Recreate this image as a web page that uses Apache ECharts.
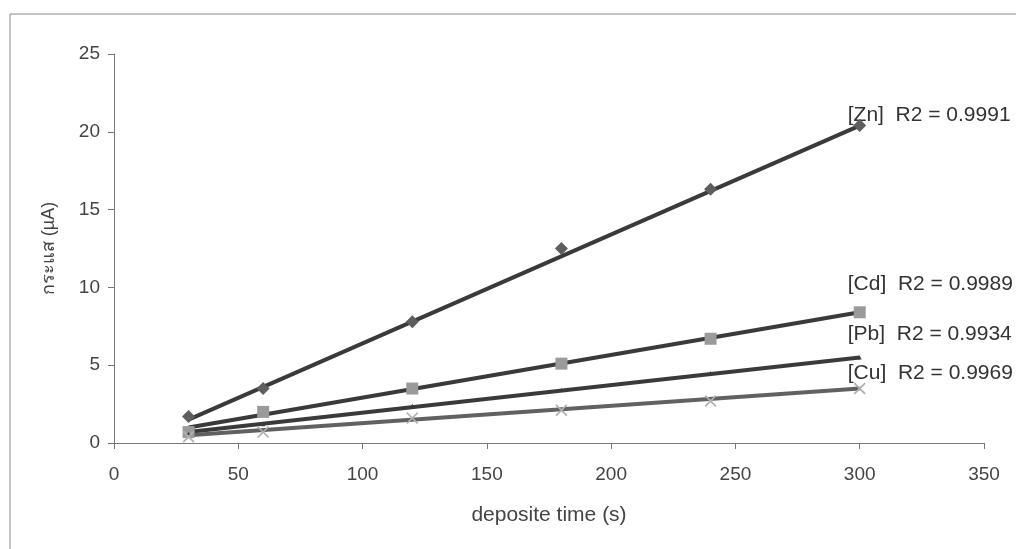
<!DOCTYPE html>
<html>
<head>
<meta charset="utf-8">
<script src="https://cdn.jsdelivr.net/npm/echarts@6/dist/echarts.min.js"></script>
<style>
  html, body { margin: 0; padding: 0; background: #fff; }
  #chart { width: 1016px; height: 549px; }
</style>
</head>
<body>
<div id="chart"></div>
<script>
// deposit time (s)
var times = [30, 60, 120, 180, 240, 300];
// measured current (µA)
var znData = [1.7, 3.5, 7.8, 12.5, 16.3, 20.4];
var cdData = [0.7, 2.0, 3.5, 5.1, 6.7, 8.4];
var pbData = [0.6, 1.2, 2.4, 3.4, 4.5, 5.5];
var cuData = [0.4, 0.7, 1.6, 2.1, 2.7, 3.5];
// trendline end values, at 30 s and 300 s
var trendX = [30, 300];
var znTrend = [1.5, 20.4];
var cdTrend = [1.0, 8.4];
var pbTrend = [0.7, 5.5];
var cuTrend = [0.5, 3.5];
var labels = ["[Zn]  R2 = 0.9991", "[Cd]  R2 = 0.9989", "[Pb]  R2 = 0.9934", "[Cu]  R2 = 0.9969"];

var font = "Liberation Sans, Arial, DejaVu Sans, Noto Sans, sans-serif";
var crossPath = "path://M2,0L10,8L18,0L20,2L12,10L20,18L18,20L10,12L2,20L0,18L8,10L0,2Z";

function pairs(xs, ys) {
  return xs.map(function (x, i) { return [x, ys[i]]; });
}

function trend(name, ys, label, color, dy) {
  return {
    name: name + " trend",
    type: "line",
    data: pairs(trendX, ys),
    symbol: "none",
    z: 3,
    lineStyle: { color: color, width: 4 },
    endLabel: {
      show: true,
      formatter: label,
      color: "#333",
      fontSize: 21,
      fontFamily: font,
      offset: [-20, dy],
    },
  };
}

function points(name, ys, symbol, size, color) {
  return {
    name: name,
    type: "scatter",
    data: pairs(times, ys),
    symbol: symbol,
    symbolSize: size,
    z: 4,
    itemStyle: { color: color, opacity: 1 },
  };
}

var chart = echarts.init(document.getElementById("chart"));
chart.setOption({
  backgroundColor: "#fff",
  animation: false,
  graphic: [
    {
      type: "rect",
      shape: { x: 10, y: 14, width: 1100, height: 700 },
      style: { fill: "none", stroke: "#888", lineWidth: 1 },
      silent: true,
    },
  ],
  grid: { left: 114, right: 32, top: 54, bottom: 106 },
  xAxis: {
    type: "value",
    min: 0,
    max: 350,
    interval: 50,
    name: "deposite time (s)",
    nameLocation: "middle",
    nameGap: 62,
    nameTextStyle: { color: "#444", fontSize: 21, fontFamily: font },
    axisLine: { lineStyle: { color: "#777", width: 1 } },
    axisTick: { show: true, length: 6, lineStyle: { color: "#777" } },
    axisLabel: { color: "#444", fontSize: 19, fontFamily: font, margin: 22 },
    splitLine: { show: false },
  },
  yAxis: {
    type: "value",
    min: 0,
    max: 25,
    interval: 5,
    name: "กระแส (µA)",
    nameLocation: "middle",
    nameGap: 56,
    nameRotate: 90,
    nameTextStyle: { color: "#444", fontSize: 18, fontFamily: font },
    axisLine: { show: true, lineStyle: { color: "#777", width: 1 } },
    axisTick: { show: true, length: 6, lineStyle: { color: "#777" } },
    axisLabel: { color: "#444", fontSize: 19, fontFamily: font, margin: 14 },
    splitLine: { show: false },
  },
  series: [
    trend("Zn", znTrend, labels[0], "#3a3a3a", -10),
    trend("Cd", cdTrend, labels[1], "#3a3a3a", -28),
    trend("Pb", pbTrend, labels[2], "#3a3a3a", -23),
    trend("Cu", cuTrend, labels[3], "#616161", -15),
    points("Zn", znData, "diamond", 13, "#5e5e5e"),
    points("Cd", cdData, "rect", 12, "#9a9a9a"),
    points("Pb", pbData, "triangle", 4, "#3a3a3a"),
    points("Cu", cuData, crossPath, 12, "#b0b0b0"),
  ],
});
</script>
</body>
</html>
